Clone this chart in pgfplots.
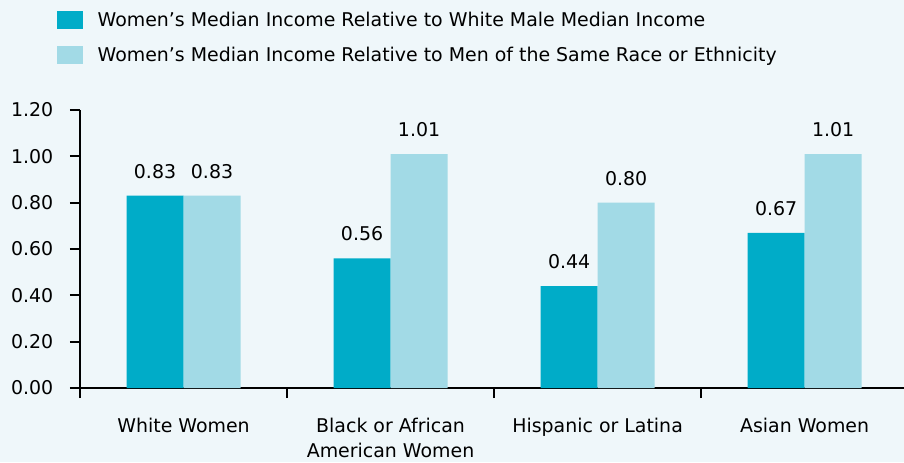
\documentclass[border=0pt]{standalone}
\usepackage{pgfplots}
\pgfplotsset{compat=1.18}
\usepackage{fontspec}
\setmainfont{DejaVu Sans}
\definecolor{darkbar}{HTML}{00ACC8}
\definecolor{lightbar}{HTML}{A2DAE6}
\definecolor{bgc}{HTML}{EFF7FA}
\newcommand{\fs}{\fontsize{14.2}{19}\selectfont}
\begin{document}
\begin{tikzpicture}
\fill[bgc] (-60pt,-55.5pt) rectangle (618pt,291pt);
\begin{axis}[
  at={(0,0)}, anchor=south west,
  scale only axis,
  width=618pt, height=208.5pt,
  xmin=-0.5, xmax=3.48,
  ymin=0, ymax=1.2,
  ybar=0pt, bar width=42.75pt,
  axis x line=bottom, axis y line=left,
  axis line style={-, line width=1.5pt, black},
  xtick={0,1,2,3},
  xticklabels={White Women, {Black or African\\American Women}, Hispanic or Latina, Asian Women},
  xticklabel style={align=center, font=\fs, yshift=-11.5pt},
  minor xtick={-0.5,0.5,1.5,2.5},
  major x tick style={draw=none},
  minor x tick style={line width=1.5pt, black},
  minor tick length=7.5pt,
  tick align=outside,
  ytick={0,0.2,...,1.21},
  major tick length=7.5pt,
  y tick style={line width=1.5pt, black},
  yticklabel style={font=\fs, xshift=-9pt, /pgf/number format/.cd, fixed, fixed zerofill, precision=2},
  /pgf/number format/assume math mode=true,
  nodes near coords,
  nodes near coords style={font=\fs, /pgf/number format/.cd, fixed, fixed zerofill, precision=2, /tikz/yshift=9.5pt},
  legend style={at={(axis description cs:0,1)}, anchor=north west, xshift=-17.25pt, yshift=75.75pt,
    draw=none, fill=none, inner sep=0pt, outer sep=0pt, font=\fs,
    row sep=10pt, /tikz/every odd column/.append style={column sep=9pt}},
  legend cell align=left,
  legend image code/.code={\fill[#1, draw=none] (0pt,-7pt) rectangle (19.5pt,7pt);},
  clip=false,
]
\addplot[fill=darkbar, draw=none] coordinates {(0,0.83) (1,0.56) (2,0.44) (3,0.67)};
\addplot[fill=lightbar, draw=none] coordinates {(0,0.83) (1,1.01) (2,0.80) (3,1.01)};
\legend{Women’s Median Income Relative to White Male Median Income, Women’s Median Income Relative to Men of the Same Race or Ethnicity}
\end{axis}
\pgfresetboundingbox
\path[use as bounding box] (-60pt,-55.5pt) rectangle (618pt,291pt);
\end{tikzpicture}
\end{document}
